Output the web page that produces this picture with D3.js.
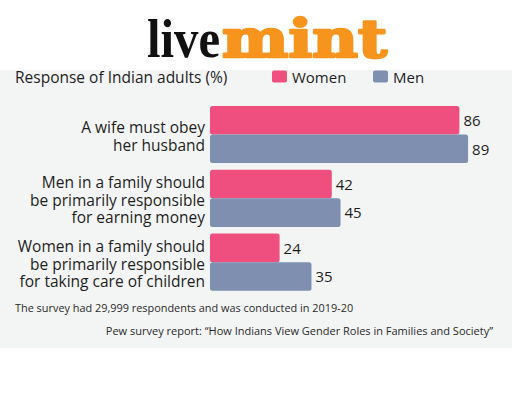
<!DOCTYPE html>
<html>
<head>
<meta charset="utf-8">
<script src="https://cdn.jsdelivr.net/npm/d3@7"></script>
<style>
  html, body { margin: 0; padding: 0; background: #ffffff; }
  svg { display: block; }
</style>
</head>
<body>
<script>
// ---- data ----
const categories = [
  ["A wife must obey", "her husband"],
  ["Men in a family should", "be primarily responsible", "for earning money"],
  ["Women in a family should", "be primarily responsible", "for taking care of children"]
];
const seriesNames = ["Women", "Men"];
const women = [86, 42, 24];
const men = [89, 45, 35];
const colors = ["#ef4f7e", "#7e8fb0"];
const titleText = "Response of Indian adults (%)";
const noteText = "The survey had 29,999 respondents and was conducted in 2019-20";
const sourceText = "Pew survey report: \u201cHow Indians View Gender Roles in Families and Society\u201d";

const W = 512, H = 399;
const FONT = "'Open Sans', 'Noto Sans', sans-serif";

const svg = d3.select("body").append("svg").attr("width", W).attr("height", H);

// panel background
svg.append("rect").attr("x", 0).attr("y", 70).attr("width", W).attr("height", 278).attr("fill", "#f3f5f5");

// logo
svg.append("text").attr("x", 147).attr("y", 57)
  .attr("font-family", "'Liberation Serif', 'DejaVu Serif', serif").attr("font-weight", "bold")
  .attr("font-size", 54).attr("fill", "#111")
  .attr("textLength", 73).attr("lengthAdjust", "spacingAndGlyphs").text("live");
svg.append("text").attr("x", 222).attr("y", 57)
  .attr("font-family", "'DejaVu Serif', serif").attr("font-weight", "bold")
  .attr("font-size", 53).attr("fill", "#f7941d")
  .attr("stroke", "#f7941d").attr("stroke-width", 2.6).attr("stroke-linejoin", "round")
  .attr("textLength", 165).attr("lengthAdjust", "spacingAndGlyphs").text("mint");

// title
svg.append("text").attr("x", 15).attr("y", 82.5)
  .attr("font-family", FONT).attr("font-size", 15.5).attr("fill", "#1e1e1e").text(titleText);

// legend
const legendX = [272, 373];
seriesNames.forEach((s, i) => {
  svg.append("rect").attr("x", legendX[i]).attr("y", 70.5).attr("width", 15).attr("height", 12)
    .attr("rx", 2).attr("fill", colors[i]);
  svg.append("text").attr("x", legendX[i] + 20).attr("y", 82.5)
    .attr("font-family", FONT).attr("font-size", 15).attr("fill", "#1e1e1e").text(s);
});

// scales
const x = d3.scaleLinear().domain([0, 100]).range([210, 500]);
const y = d3.scaleBand().domain(d3.range(categories.length)).range([106, 290.7]).paddingInner(0.105).paddingOuter(0);
const ySub = d3.scaleBand().domain(seriesNames).range([0, y.bandwidth()]).padding(0);

const data = categories.map((c, i) => ({ i, label: c, values: [women[i], men[i]] }));

const g = svg.append("g");
const groups = g.selectAll("g.grp").data(data).join("g").attr("class", "grp")
  .attr("transform", d => `translate(0,${y(d.i)})`);

groups.selectAll("rect").data(d => d.values.map((v, k) => ({ v, k }))).join("rect")
  .attr("x", x(0))
  .attr("y", d => ySub(seriesNames[d.k]))
  .attr("width", d => x(d.v) - x(0))
  .attr("height", ySub.bandwidth())
  .attr("rx", 2.5)
  .attr("fill", d => colors[d.k]);

groups.selectAll("text.val").data(d => d.values.map((v, k) => ({ v, k }))).join("text")
  .attr("class", "val")
  .attr("x", d => x(d.v) + 4)
  .attr("y", d => ySub(seriesNames[d.k]) + ySub.bandwidth() / 2)
  .attr("dy", "0.38em")
  .attr("font-family", FONT).attr("font-size", 15).attr("fill", "#1e1e1e")
  .text(d => d.v);

// category labels
const lineH = 17.7;
groups.each(function(d) {
  const n = d.label.length;
  const cy = y.bandwidth() / 2;
  d.label.forEach((line, j) => {
    d3.select(this).append("text")
      .attr("text-anchor", "end")
      .attr("font-family", FONT).attr("font-size", 15.5).attr("fill", "#1e1e1e")
      .attr("x", 205)
      .attr("y", cy - (n - 1) / 2 * lineH + j * lineH + 2 + 0.35 * 15.5)
      .text(line);
  });
});

// footnotes
svg.append("text").attr("x", 15).attr("y", 312)
  .attr("font-family", FONT).attr("font-size", 10.9).attr("fill", "#2a2a2a").text(noteText);
svg.append("text").attr("x", 493).attr("y", 335).attr("text-anchor", "end")
  .attr("font-family", FONT).attr("font-size", 11).attr("fill", "#2a2a2a").text(sourceText);
</script>
</body>
</html>
